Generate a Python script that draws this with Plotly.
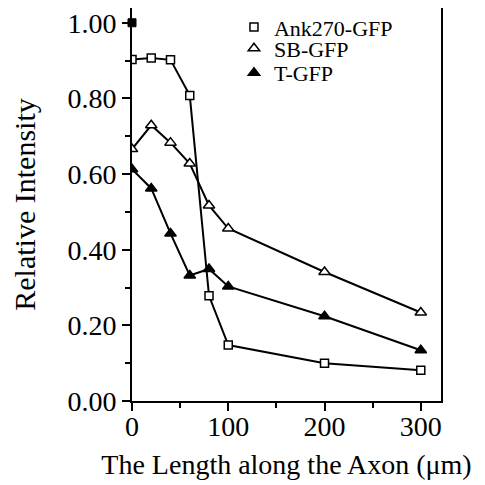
import plotly.graph_objects as go

# datos
dist_um = [0, 20, 40, 60, 80, 100, 200, 300]
ank270_gfp = [0.903, 0.907, 0.902, 0.808, 0.278, 0.148, 0.100, 0.081]
sb_gfp = [0.666, 0.729, 0.683, 0.628, 0.517, 0.456, 0.341, 0.234]
t_gfp = [0.613, 0.562, 0.443, 0.332, 0.349, 0.303, 0.224, 0.134]

# punto de referencia (relleno) en el origen
ref_x = [0]
ref_y = [1.00]

y_ticks = [0.0, 0.2, 0.4, 0.6, 0.8, 1.0]
x_ticks = [0, 100, 200, 300]

FUENTE = "Liberation Serif"

fig = go.Figure()

series = [
    ("Ank270-GFP", ank270_gfp, "square", "white", 8, "legend", 0.951),
    ("SB-GFP", sb_gfp, "triangle-up", "white", 10, "legend2", 0.897),
    ("T-GFP", t_gfp, "triangle-up", "black", 10, "legend3", 0.835),
]

# primero las líneas (sin leyenda)
for nombre, vals, simbolo, relleno, tam, leg, ly in series:
    fig.add_trace(go.Scatter(
        x=dist_um, y=vals, mode="lines", showlegend=False,
        line=dict(color="black", width=2), hoverinfo="skip"
    ))

# luego los marcadores, cada uno con su propia leyenda para fijar la posición
for nombre, vals, simbolo, relleno, tam, leg, ly in series:
    fig.add_trace(go.Scatter(
        x=dist_um, y=vals, mode="markers", name=nombre, legend=leg,
        marker=dict(symbol=simbolo, size=tam, color=relleno,
                    line=dict(color="black", width=1.5))
    ))

fig.add_trace(go.Scatter(
    x=ref_x, y=ref_y, mode="markers", showlegend=False,
    marker=dict(symbol="square", size=8, color="black",
                line=dict(color="black", width=1)),
    cliponaxis=False
))

# eje auxiliar sólo para las etiquetas del eje x (más pegadas al eje)
fig.add_trace(go.Scatter(
    x=x_ticks, y=[None] * len(x_ticks), xaxis="x2", showlegend=False,
    hoverinfo="skip"
))

leyendas = {}
for nombre, vals, simbolo, relleno, tam, leg, ly in series:
    leyendas[leg] = dict(
        x=0.330, y=ly, xanchor="left", yanchor="middle",
        font=dict(family=FUENTE, size=22, color="black"),
        bgcolor="rgba(0,0,0,0)", itemsizing="trace"
    )

# el body de la página añade 8 px de margen: la figura es 477x477
fig.update_layout(
    width=477, height=477,
    margin=dict(l=124, r=44, t=0, b=84, autoexpand=False),
    paper_bgcolor="white", plot_bgcolor="white",
    font=dict(family=FUENTE, color="black", size=22),
    **leyendas,
)

fig.update_layout(
    xaxis=dict(
        range=[0, 321], tickvals=x_ticks, ticks="outside", ticklen=8,
        tickwidth=2, tickcolor="black", showline=True, linewidth=2,
        linecolor="black", mirror=True, showgrid=False, zeroline=False,
        showticklabels=False,
        minor=dict(ticks="outside", dtick=50, tick0=0, ticklen=5,
                   tickwidth=2, tickcolor="black"),
    ),
    xaxis2=dict(
        overlaying="x", matches="x", side="bottom", range=[0, 321],
        tickvals=x_ticks, ticks="", showline=False, showgrid=False,
        zeroline=False, tickfont=dict(size=28), ticklabelstandoff=6,
        ticklabeloverflow="allow",
        title=dict(text="The Length along the Axon (μm)",
                   font=dict(size=28), standoff=13),
    ),
    yaxis=dict(
        range=[0, 1.039], tickvals=y_ticks, tickformat=".2f", ticks="outside",
        ticklen=8, tickwidth=2, tickcolor="black", showline=True, linewidth=2,
        linecolor="black", mirror=True, showgrid=False, zeroline=False,
        minor=dict(ticks="outside", dtick=0.1, tick0=0, ticklen=5,
                   tickwidth=2, tickcolor="black"),
        tickfont=dict(size=28), ticklabelstandoff=0,
        ticklabeloverflow="allow",
        title=dict(text="Relative Intensity", font=dict(size=30), standoff=36),
    ),
)

fig.write_html("out.html")
